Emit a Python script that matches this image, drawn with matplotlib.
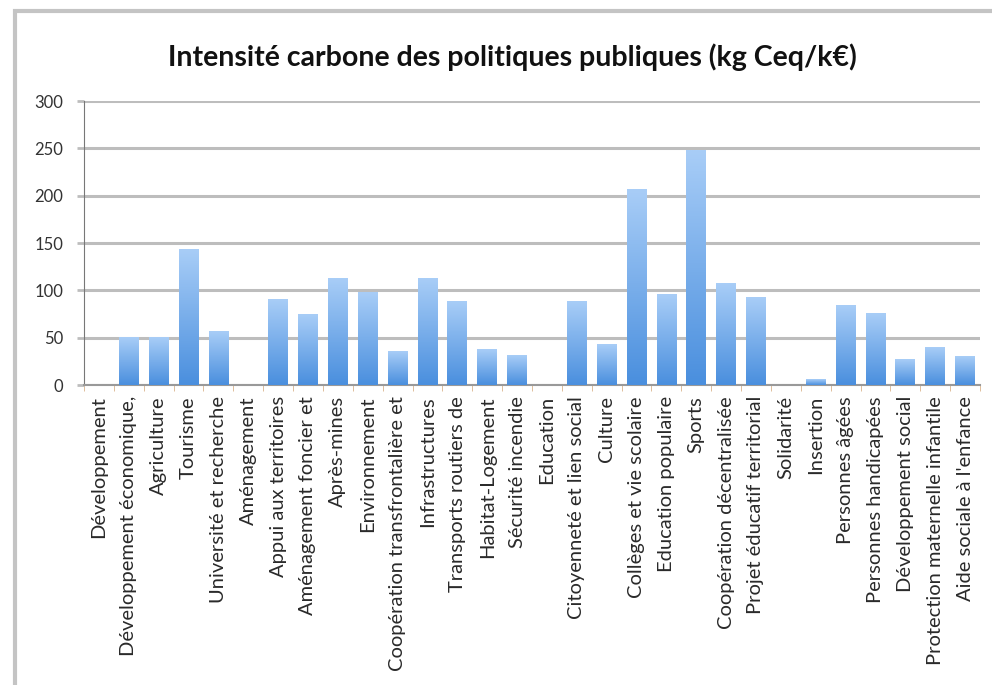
import numpy as np
import matplotlib
matplotlib.use("Agg")
import matplotlib.pyplot as plt
from matplotlib.colors import LinearSegmentedColormap
from matplotlib.patches import Rectangle

categories = [
    "Développement", "Développement économique,", "Agriculture", "Tourisme",
    "Université et recherche", "Aménagement", "Appui aux territoires",
    "Aménagement foncier et", "Après-mines", "Environnement",
    "Coopération transfrontalière et", "Infrastructures", "Transports routiers de",
    "Habitat-Logement", "Sécurité incendie", "Education",
    "Citoyenneté et lien social", "Culture", "Collèges et vie scolaire",
    "Education populaire", "Sports", "Coopération décentralisée",
    "Projet éducatif territorial", "Solidarité", "Insertion", "Personnes âgées",
    "Personnes handicapées", "Développement social",
    "Protection maternelle infantile", "Aide sociale à l'enfance",
]
values = [0, 50, 50, 143, 57, 0, 90, 74, 113, 98, 35, 112, 88, 37, 31,
          0, 88, 43, 206, 96, 248, 107, 92, 0, 6, 84, 76, 27, 40, 30]
yticks = [0, 50, 100, 150, 200, 250, 300]
title = "Intensité carbone des politiques publiques (kg Ceq/k€)"

plt.rcParams["font.family"] = ["Lato", "DejaVu Sans"]

fig = plt.figure(figsize=(9.92, 6.85), dpi=100)

# cadre gris autour du graphique
fig.patches.append(Rectangle((15 / 992, -0.05), 1.1, (685 - 11) / 685 + 0.05,
                             transform=fig.transFigure, fill=False,
                             edgecolor="#c4c4c4", linewidth=3))

ax = fig.add_axes([84 / 992, (685 - 385) / 685, 896 / 992, 284 / 685])

x = np.arange(len(categories))
width = 0.66
cmap = LinearSegmentedColormap.from_list("bleu", ["#4a8fde", "#a8cdf7"])
grad = np.linspace(0, 1, 100).reshape(-1, 1)

bars = ax.bar(x, values, width=width, color="none", zorder=3)
for b in bars:
    h = b.get_height()
    if h <= 0:
        continue
    ax.imshow(grad, extent=[b.get_x(), b.get_x() + b.get_width(), 0, h],
              origin="lower", aspect="auto", cmap=cmap, zorder=3)

ax.set_xlim(-0.5, len(categories) - 0.5)
ax.set_ylim(0, 300)
ax.set_yticks(yticks)
ax.set_yticklabels([str(v) for v in yticks], fontsize=12, color="#333333")
ax.yaxis.grid(True, color="#bdbdbd", linewidth=2.2, zorder=0)
ax.set_axisbelow(True)

ax.set_xticks(x)
ax.set_xticklabels(categories, rotation=90, fontsize=14.5, color="#2a2a2a")
ax.tick_params(axis="x", length=0, pad=8)
ax.set_xticks(np.arange(len(categories) + 1) - 0.5, minor=True)
ax.tick_params(axis="x", which="minor", length=4, color="#d9b38c")
ax.tick_params(axis="y", length=5, width=2, color="#bdbdbd", pad=10)

for s in ["top", "right"]:
    ax.spines[s].set_visible(False)
ax.spines["left"].set_color("#777777")
ax.spines["bottom"].set_color("#999999")
ax.spines["bottom"].set_linewidth(1.5)

fig.text(512 / 992, 1 - 57 / 685, title, ha="center", va="center",
         fontsize=20.5, fontweight="bold", color="#111111")

fig.savefig("out.png", dpi=100)
